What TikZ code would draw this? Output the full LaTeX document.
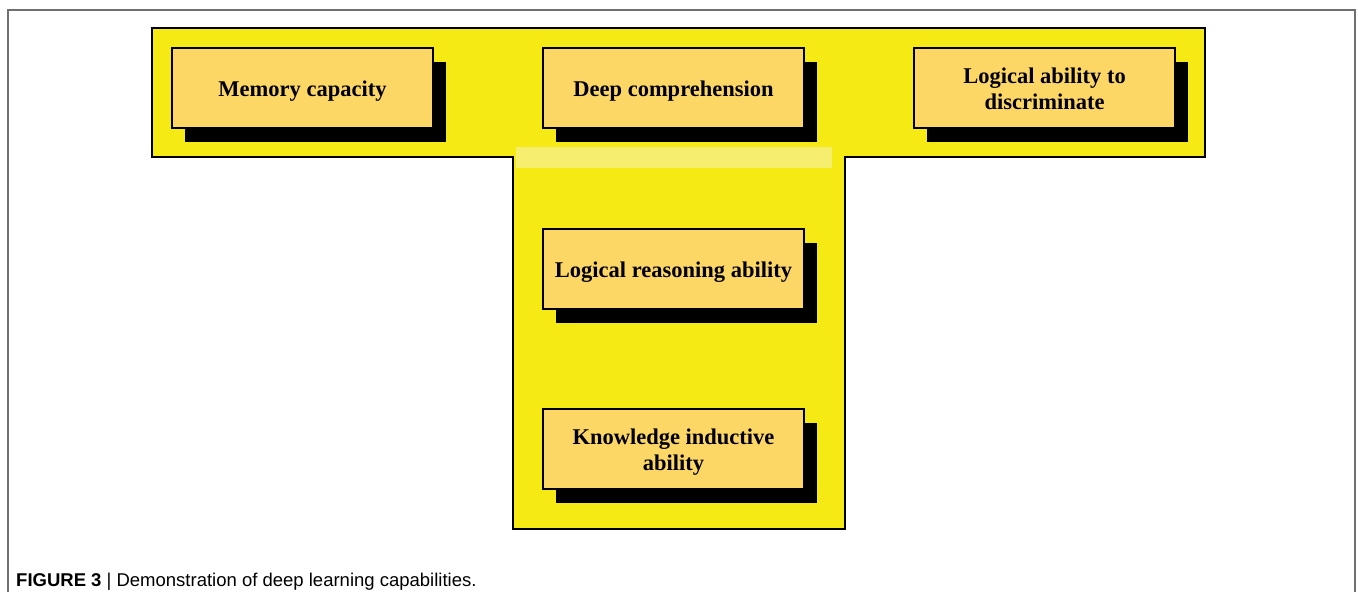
\documentclass[tikz,border=0pt]{standalone}
\usepackage{fontspec}
\setmainfont{Liberation Serif}
\newfontfamily\capfont{Liberation Sans}
\usetikzlibrary{shadows}
\definecolor{tyellow}{HTML}{F5EA14}
\definecolor{boxfill}{HTML}{FDD766}
\definecolor{stripcol}{HTML}{F6EE6E}
\definecolor{framegray}{HTML}{707070}
\newcommand{\boxtext}[1]{\raisebox{-3pt}[\height][\depth]{\begin{tabular}{@{}c@{}}#1\end{tabular}}}
\begin{document}
\begin{tikzpicture}[x=1pt,y=-1pt,
  capbox/.style={draw=black, line width=2pt, fill=boxfill, minimum width=261pt,
    minimum height=80pt, inner sep=0pt,
    font=\fontsize{22.5}{26.5}\selectfont\bfseries,
    general shadow={fill=black, shadow xshift=13pt, shadow yshift=-14pt}}]
\useasboundingbox (0,0) rectangle (1358,592);
\draw[framegray, line width=1.2pt] (8,592) -- (8,10) -- (1355,10) -- (1355,592);
\draw[fill=tyellow, line width=2pt] (152,28) -- (1205,28) -- (1205,157) -- (845,157)
  -- (845,529) -- (513,529) -- (513,157) -- (152,157) -- cycle;
\fill[stripcol] (516,147) rectangle (832,168);
\node[capbox] (mem) at (302.5,88) {\boxtext{Memory capacity}};
\node[capbox] (deep) at (673.5,88) {\boxtext{Deep comprehension}};
\node[capbox] (disc) at (1044.5,88) {\boxtext{Logical ability to\\discriminate}};
\node[capbox] (reas) at (673.5,269) {\boxtext{Logical reasoning ability}};
\node[capbox] (know) at (673.5,449) {\boxtext{Knowledge inductive\\ability}};
\node[anchor=base west, inner sep=0pt, font=\capfont\fontsize{18.5}{20}\selectfont] (cap) at (16,586)
  {\textbf{FIGURE 3} | Demonstration of deep learning capabilities.};
\end{tikzpicture}
\end{document}
